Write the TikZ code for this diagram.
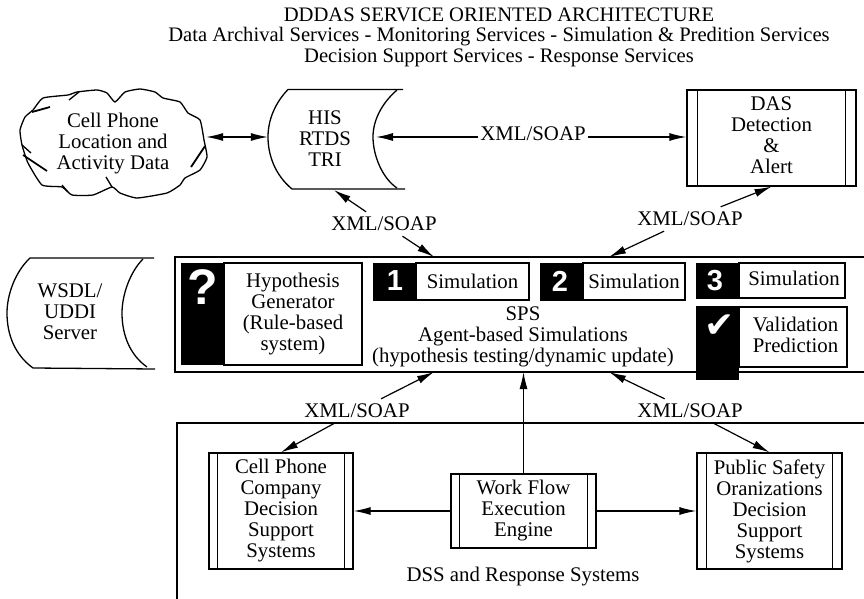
\documentclass[tikz,border=0pt]{standalone}
\usepackage{fontspec}
\setmainfont{Liberation Serif}
\setsansfont{Liberation Sans}
\newfontfamily\symfont{DejaVu Sans}
\usetikzlibrary{calc, arrows.meta}

\tikzset{
  txt/.style={inner sep=0pt, align=center, font=\fontsize{20.8}{21}\selectfont},
  xmllabel/.style={txt, inner xsep=2pt, inner ysep=5pt},
  framebox/.style={draw, line width=1.3pt, inner sep=0pt},
  procbox/.style={txt, draw, line width=1.3pt},
  simbox/.style={txt, draw, line width=1.6pt},
  blacktag/.style={fill=black, inner sep=0pt},
  tagsign/.style={inner sep=0pt, text=white, font=\sffamily\bfseries\fontsize{29}{29}\selectfont},
  outline/.style={line width=1.3pt},
  conn/.style={line width=1.2pt},
  >={Latex[length=17pt,width=8pt]}
}

\begin{document}
\begin{tikzpicture}[x=1pt, y=-1pt]
  \useasboundingbox (0,0) rectangle (864,599);
  \clip (0,0) rectangle (864,599);

  % title
  \node[txt, font=\fontsize{20.6}{20.5}\selectfont] (title) at (499,37)
    {DDDAS SERVICE ORIENTED ARCHITECTURE\\
    Data Archival Services - Monitoring Services - Simulation \& Predition Services\\
    Decision Support Services - Response Services};

  % cloud
  \draw[outline] plot[smooth cycle, tension=0.3] coordinates {(115,102) (125,92) (140,89) (155,92)
    (163,98) (180,102) (188,113) (200,120) (204,140) (207,157) (200,170) (185,178) (180,185)
    (167,193) (137,198) (120,193) (112,187) (93,195) (72,195) (62,187) (42,185) (28,163)
    (22,145) (20,130) (25,117) (33,110) (43,98) (68,95) (77,92) (97,90) (107,93)};
  \draw[outline] (69,100) -- (79,92);
  \draw[line width=1.8pt] (32,112) -- (50,107);
  \draw[outline] (22,145) -- (31,153);
  \draw[line width=1.8pt] (23,155) -- (47,171);
  \draw[line width=1.8pt] (191,167) -- (205,146);
  \draw[outline] (62,185) -- (68,192);
  \draw[outline] (106,177) -- (112,187);
  \node[txt, minimum width=186pt, minimum height=110pt] (cloud) at (113,143.5)
    {Cell Phone\\Location and\\Activity Data};

  % HIS store
  \draw[outline] (403,89.5) -- (288,89.5) .. controls (275,103) and (268,120) .. (268,137)
    .. controls (268,155) and (275,175) .. (292,189) -- (405,189);
  \draw[outline] (397,90) .. controls (382,103) and (373,120) .. (373,137)
    .. controls (373,155) and (382,178) .. (397,188);
  \node[txt, minimum width=114pt] (his) at (325,139) {HIS\\RTDS\\TRI};
  \coordinate (hisE) at (376,137);
  \coordinate (hisS) at (334,190);

  % DAS
  \node[procbox, minimum width=169pt, minimum height=96pt] (das) at (771.5,138)
    {DAS\\Detection\\\&\\Alert\rule[-5pt]{0pt}{5pt}};

  % WSDL store
  \draw[outline] (154,258) -- (30,258) .. controls (15,272) and (7,295) .. (7,313)
    .. controls (7,335) and (15,355) .. (33,368) -- (155,369);
  \draw[outline] (143,259) .. controls (130,272) and (122,295) .. (122,313)
    .. controls (122,335) and (130,355) .. (147,367);
  \node[txt] (wsdl) at (70,312) {WSDL/\\UDDI\\Server};

  % SPS
  \node[framebox, minimum width=705pt, minimum height=115pt] (spsbox) at (527.5,314.5) {};
  \coordinate (spsA) at (434,257);
  \coordinate (spsB) at (609,257);
  \coordinate (spsC) at (434,372);
  \coordinate (spsD) at (609,372);
  \node[txt] (sps) at (523,337) {SPS\\Agent-based Simulations\\(hypothesis testing/dynamic update)};

  \node[blacktag, minimum width=43pt, minimum height=102pt] (hyptag) at (202.5,314) {};
  \node[simbox, minimum width=138pt, minimum height=102pt] (hyp) at (293,314)
    {Hypothesis\\Generator\\(Rule-based\\system)};
  \node[tagsign, font=\sffamily\bfseries\fontsize{50}{50}\selectfont] (hypsign) at (203,287) {?};

  \node[blacktag, minimum width=43pt, minimum height=38pt] (tagA) at (394.5,282) {};
  \node[simbox, minimum width=113pt, minimum height=37pt] (simA) at (472.5,281.5) {Simulation};
  \node[tagsign] (signA) at (395,281) {1};
  \node[blacktag, minimum width=43pt, minimum height=38pt] (tagB) at (561.5,282) {};
  \node[simbox, minimum width=102pt, minimum height=37pt] (simB) at (634,281.5) {Simulation};
  \node[tagsign] (signB) at (560,281) {2};
  \node[blacktag, minimum width=43pt, minimum height=36pt] (tagC) at (717.5,281) {};
  \node[simbox, minimum width=106pt, minimum height=35pt] (simC) at (792,280.5) {};
  \node[txt] (simCtext) at (794,278) {Simulation};
  \node[tagsign] (signC) at (715,281) {3};

  \node[blacktag, minimum width=43pt, minimum height=74pt] (tagV) at (717.5,343) {};
  \node[simbox, minimum width=108pt, minimum height=60pt] (valid) at (793,337) {};
  \node[txt] (validtext) at (795.5,334.5) {Validation\\Prediction};
  \node[tagsign, font=\symfont\fontsize{36}{36}\selectfont] (signV) at (720,326) {✔};

  % DSS
  \node[framebox, minimum width=703pt, minimum height=200pt] (dss) at (528.5,523) {};
  \node[txt] (dsslabel) at (523,577) {DSS and Response Systems};
  \node[procbox, minimum width=144pt, minimum height=116pt] (cellco) at (281,511)
    {Cell Phone\\Company\\Decision\\Support\\Systems};
  \node[procbox, minimum width=145pt, minimum height=116pt] (public) at (769.5,511)
    {Public Safety\\Oranizations\\Decision\\Support\\Systems};
  \node[procbox, minimum width=145pt, minimum height=74pt] (workflow) at (523.5,511)
    {Work Flow\\Execution\\Engine};

  \foreach \n/\w in {das/11, cellco/9, public/10, workflow/9} {
    \draw[line width=1.3pt] ([xshift=\w pt]\n.north west) -- ([xshift=\w pt]\n.south west);
    \draw[line width=1.3pt] ([xshift=-\w pt]\n.north east) -- ([xshift=-\w pt]\n.south east);
  }

  % labels on the links
  \node[xmllabel] (xmlTop) at (533,134) {XML/SOAP};
  \node[xmllabel] (xmlHis) at (384,224) {XML/SOAP};
  \node[xmllabel] (xmlDas) at (690,219) {XML/SOAP};
  \node[xmllabel] (xmlCell) at (357,411) {XML/SOAP};
  \node[xmllabel] (xmlPub) at (690,411) {XML/SOAP};

  % links
  \draw[conn, <->] (cloud.east |- hisE) -- (his.west |- hisE);
  \draw[conn, <-] (hisE) -- (xmlTop.west |- hisE);
  \draw[conn, ->] (xmlTop.east |- hisE) -- (das.west |- hisE);
  \draw[conn, ->] (xmlHis) -- (hisS);
  \draw[conn, ->] (xmlHis) -- (spsA);
  \draw[conn, ->] (xmlDas) -- (das.south);
  \draw[conn, ->] (xmlDas) -- (spsB);
  \draw[conn, ->] (xmlCell) -- (spsC);
  \draw[conn, ->] (xmlCell) -- (cellco.north);
  \draw[conn, ->] (xmlPub) -- (spsD);
  \draw[conn, ->] (xmlPub) -- (public.north);
  \draw[conn, ->] (workflow.west) -- (cellco.east);
  \draw[conn, ->] (workflow.east) -- (public.west);
  \draw[conn, ->] (workflow.north) -- (workflow.north |- spsC);
\end{tikzpicture}
\end{document}
